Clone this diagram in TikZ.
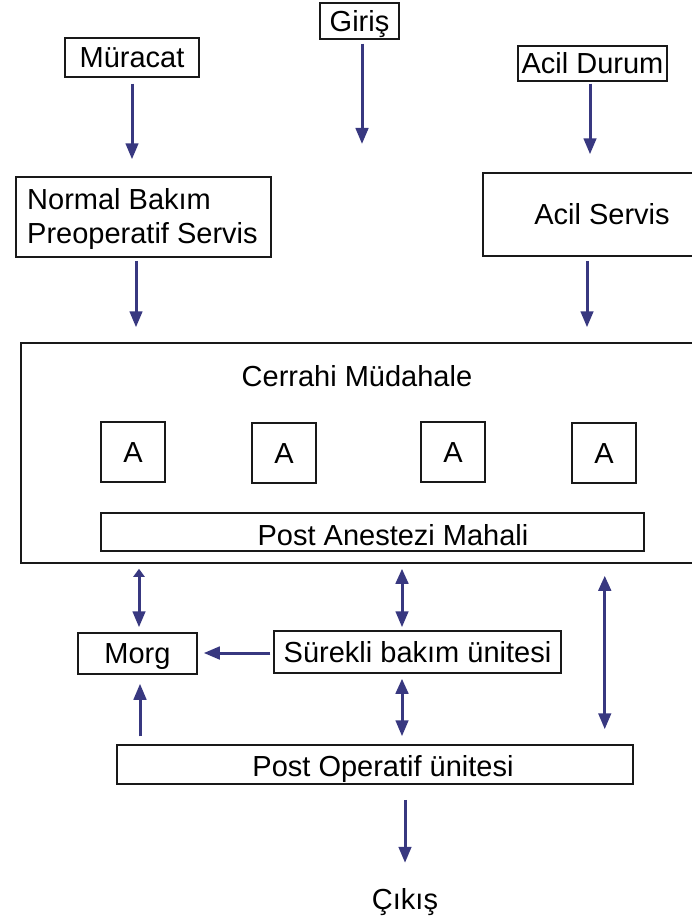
\documentclass[tikz,border=0pt]{standalone}
\usepackage{fontspec}
\setmainfont{Liberation Sans}
\usetikzlibrary{arrows.meta,calc}
\definecolor{flow}{RGB}{56,56,128}
\begin{document}
\begin{tikzpicture}[x=1pt,y=-1pt,
  box/.style={draw=black!90,line width=1.5pt,inner sep=0pt,anchor=center,
    font=\fontsize{29}{34}\selectfont,text height=20.8pt,text depth=0pt},
  lbl/.style={inner sep=0pt,font=\fontsize{29}{34}\selectfont,text height=20.8pt,text depth=0pt},
  arr/.style={draw=flow,line width=3pt,-{Triangle[length=16pt,width=12.5pt]}},
  darr/.style={draw=flow,line width=3pt,{Triangle[length=15pt,width=12.5pt]}-{Triangle[length=16pt,width=12.5pt]}}]
\useasboundingbox (0,0) rectangle (692,923);

% entry points
\node[box,minimum width=134pt,minimum height=39pt] (mur) at (132,57.5) {Müracat};
\node[box,minimum width=79pt,minimum height=36pt] (giris) at (359.5,21) {Giriş};
\node[box,minimum width=149pt,minimum height=35pt] (acd) at (592.5,63.5) {Acil Durum};
\coordinate (gend) at (362,144);

% wards before surgery
\node[box,minimum width=255pt,minimum height=80pt] (nb) at (143.5,217) {};
\node[inner sep=0pt,font=\fontsize{29}{34}\selectfont,align=left,anchor=north west] (nbt) at (27,188.5) {Normal Bakım\\Preoperatif Servis};
\node[box,minimum width=238pt,minimum height=83pt] (as) at (602,214.5) {Acil Servis};

% surgical block
\node[box,minimum width=672pt,minimum height=220pt] (cm) at (357,453) {};
\node[lbl] (cmt) at (357,376) {Cerrahi Müdahale};
\node[box,minimum width=64pt,minimum height=60pt] (a1) at (133,452) {A};
\node[box,minimum width=64pt,minimum height=60pt] (a2) at (284,453) {A};
\node[box,minimum width=64pt,minimum height=60pt] (a3) at (453,452) {A};
\node[box,minimum width=64pt,minimum height=60pt] (a4) at (604,453) {A};
\node[box,minimum width=543pt,minimum height=38pt] (pam) at (372.5,532) {};
\node[lbl] (pamt) at (393,535) {Post Anestezi Mahali};

% after surgery
\node[box,minimum width=119pt,minimum height=41pt] (morg) at (137.5,653.5) {Morg};
\node[box,minimum width=287pt,minimum height=42pt] (sb) at (417.5,652) {Sürekli bakım ünitesi};
\node[box,minimum width=516pt,minimum height=39pt] (po) at (375,764.5) {};
\node[lbl] (pot) at (383,766) {Post Operatif ünitesi};
\node[lbl] (out) at (405,899) {Çıkış};

% flows
\draw[arr] ($(mur.south)+(0,6)$) -- ($(mur.south |- nb.north)+(0,-17)$);
\draw[arr] ($(giris.south)+(2.5,4)$) -- (gend);
\draw[arr] ($(acd.south)+(-2.5,2)$) -- ($(acd.south |- as.north)+(-2.5,-18)$);
\draw[arr] ($(nb.south)+(-7.5,3)$) -- ($(nb.south |- cm.north)+(-7.5,-15)$);
\draw[arr] ($(as.south)+(-15,4)$) -- ($(as.south |- cm.north)+(-15,-15)$);
\draw[draw=flow,line width=3pt,{Triangle[length=8pt,width=11pt]}-{Triangle[length=16pt,width=12.5pt]}]
  ($(cm.south -| morg.north)+(1.5,5)$) -- ($(morg.north)+(1.5,-5)$);
\draw[darr] ($(cm.south -| sb.north)+(-15.5,5)$) -- ($(sb.north)+(-15.5,-3)$);
\draw[darr] ($(cm.south -| po.north east)+(-29,12)$) -- ($(po.north east)+(-29,-15)$);
\draw[darr] ($(sb.south)+(-15.5,5)$) -- ($(sb.south |- po.north)+(-15.5,-8)$);
\draw[arr] ($(po.north -| morg.south)+(2.5,-8)$) -- ($(morg.south)+(2.5,9)$);
\draw[arr] ($(sb.west)+(-3,1)$) -- ($(sb.west -| morg.east)+(6,1)$);
\draw[arr] ($(po.south -| out.north)+(0,15)$) -- ($(out.north)+(0,-25.6)$);
\end{tikzpicture}
\end{document}
